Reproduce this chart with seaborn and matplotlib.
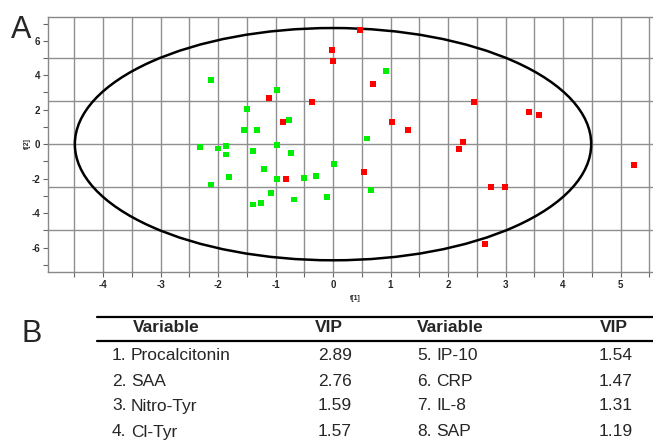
import numpy as np
import pandas as pd
import matplotlib
matplotlib.use("Agg")
import matplotlib.pyplot as plt
from matplotlib.patches import Ellipse
from matplotlib.lines import Line2D
from matplotlib.ticker import MultipleLocator
import seaborn as sns

# ---- data ----
red_x = [-1.11, -0.87, -0.82, -0.37, 0.47, -0.02, 0.00, 0.70, 1.03, 1.30, 0.54,
         2.45, 3.41, 3.58, 2.26, 2.19, 2.75, 2.99, 5.23, 2.64]
red_y = [2.67, 1.28, -2.03, 2.44, 6.63, 5.47, 4.83, 3.49, 1.28, 0.81, -1.63,
         2.44, 1.86, 1.69, 0.12, -0.29, -2.48, -2.50, -1.22, -5.81]
green_x = [-2.12, -0.97, -1.50, -0.77, -1.55, -1.32, -2.31, -2.00, -1.86, -1.86,
           -1.39, -0.97, -0.73, -2.12, -1.81, -1.20, -0.97, -0.50, -0.30, -1.08,
           -1.39, -1.25, -0.68, -0.10, 0.02, 0.66, 0.92, 0.59]
green_y = [3.72, 3.14, 2.03, 1.40, 0.81, 0.81, -0.17, -0.25, -0.10, -0.60,
           -0.40, -0.06, -0.52, -2.33, -1.91, -1.45, -2.03, -1.98, -1.86, -2.85,
           -3.49, -3.43, -3.20, -3.08, -1.16, -2.67, 4.24, 0.33]
ellipse_a = 4.49   # semi-axis t[1]
ellipse_b = 6.74   # semi-axis t[2]

x_ticks = [-4, -3, -2, -1, 0, 1, 2, 3, 4, 5]
y_ticks = [-6, -4, -2, 0, 2, 4, 6]

var_left = ["Procalcitonin", "SAA", "Nitro-Tyr", "Cl-Tyr"]
vip_left = ["2.89", "2.76", "1.59", "1.57"]
var_right = ["IP-10", "CRP", "IL-8", "SAP"]
vip_right = ["1.54", "1.47", "1.31", "1.19"]

df = pd.DataFrame({
    "t1": red_x + green_x,
    "t2": red_y + green_y,
    "group": ["red"] * len(red_x) + ["green"] * len(green_x),
})

sns.set_theme(style="white")
plt.rcParams["font.family"] = ["Liberation Sans", "DejaVu Sans"]

W, H = 653, 446
fig = plt.figure(figsize=(W / 100, H / 100), dpi=100)
ax = fig.add_axes([48 / W, 1 - 272 / H, (W - 48) / W, (272 - 17) / H])

grid_c = "#8f8f8f"
ax.set_xlim(-4.957, 5.565)
ax.set_ylim(-7.42, 7.38)
ax.xaxis.set_major_locator(MultipleLocator(1))
ax.xaxis.set_minor_locator(MultipleLocator(0.5))
ax.yaxis.set_major_locator(MultipleLocator(2))
ax.yaxis.set_minor_locator(MultipleLocator(1))
for v in np.arange(-4.5, 5.6, 0.5):
    ax.axvline(v, color=grid_c, lw=1.0, zorder=0)
for v in [-5, -2.5, 0, 2.5, 5]:
    ax.axhline(v, color=grid_c, lw=1.0, zorder=0)

ax.add_patch(Ellipse((0, 0), 2 * ellipse_a, 2 * ellipse_b, fill=False,
                     edgecolor="black", lw=1.8, zorder=2))

sns.scatterplot(data=df, x="t1", y="t2", hue="group",
                palette={"red": "#ff0000", "green": "#00ee00"},
                marker="s", s=16, linewidth=0, legend=False, ax=ax, zorder=3)

ax.set_xticks(x_ticks)
ax.set_yticks(y_ticks)
ax.set_xticklabels([str(t) for t in x_ticks], fontsize=7, fontweight="bold")
ax.set_yticklabels([str(t) for t in y_ticks], fontsize=7, fontweight="bold")
ax.tick_params(axis="both", which="both", direction="out", length=3.5,
               width=0.8, color="#666666", pad=2, bottom=True, left=True)
ax.set_xlabel("")
ax.set_ylabel("")
for s in ax.spines.values():
    s.set_color("#888888")
    s.set_linewidth(1.0)
ax.spines["right"].set_visible(False)

fig.text(355 / W, 1 - 299 / H, "t[1]", fontsize=5, fontweight="bold",
         ha="center", va="center")
fig.text(27 / W, 1 - 144 / H, "t[2]", fontsize=5, fontweight="bold",
         ha="center", va="center", rotation=90)

fig.text(11 / W, 1 - 38 / H, "A", fontsize=22, va="baseline", ha="left")
fig.text(22 / W, 1 - 342 / H, "B", fontsize=22, va="baseline", ha="left")

# ---- table ----
for yy in [317, 341]:
    fig.add_artist(Line2D([97 / W, 1.0], [1 - yy / H, 1 - yy / H],
                          color="black", lw=1.6, transform=fig.transFigure))

fs = 12.5
hy = 1 - 328 / H
fig.text(133 / W, hy, "Variable", fontsize=fs, fontweight="bold", va="center")
fig.text(315 / W, hy, "VIP", fontsize=fs, fontweight="bold", va="center")
fig.text(417 / W, hy, "Variable", fontsize=fs, fontweight="bold", va="center")
fig.text(600 / W, hy, "VIP", fontsize=fs, fontweight="bold", va="center")

row_y = [355, 381, 406, 432]
for i in range(4):
    y = 1 - row_y[i] / H
    fig.text(112 / W, y, f"{i + 1}.", fontsize=fs, va="center")
    fig.text(131 / W, y, var_left[i], fontsize=fs, va="center")
    fig.text(352 / W, y, vip_left[i], fontsize=fs, va="center", ha="right")
    fig.text(417 / W, y, f"{i + 5}.", fontsize=fs, va="center")
    fig.text(436 / W, y, var_right[i], fontsize=fs, va="center")
    fig.text(633 / W, y, vip_right[i], fontsize=fs, va="center", ha="right")

fig.savefig("out.png", dpi=100)
